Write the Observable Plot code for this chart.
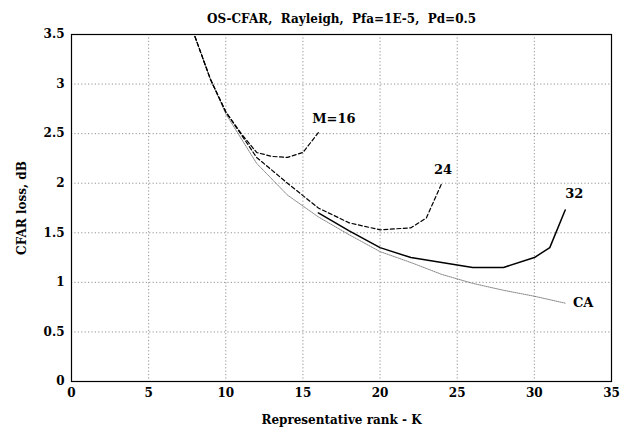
<!DOCTYPE html>
<html>
<head>
<meta charset="utf-8">
<script src="https://cdn.jsdelivr.net/npm/d3@7"></script>
<script src="https://cdn.jsdelivr.net/npm/@observablehq/plot@0.6"></script>
<style>
  html, body { margin: 0; padding: 0; background: #fff; }
</style>
</head>
<body>
<div id="chart"></div>
<script>
// ---- data ----
const titleText = "OS-CFAR,  Rayleigh,  Pfa=1E-5,  Pd=0.5";
const xLabel = "Representative rank - K";
const yLabel = "CFAR loss, dB";
const xTicks = [0, 5, 10, 15, 20, 25, 30, 35];
const yTicks = [0, 0.5, 1, 1.5, 2, 2.5, 3, 3.5];

const k16 = [8, 9, 10, 11, 12, 13, 14, 15, 16];
const loss16 = [3.48, 3.05, 2.72, 2.5, 2.31, 2.27, 2.26, 2.31, 2.51];

const k24 = [8, 9, 10, 12, 14, 16, 18, 20, 22, 23, 24];
const loss24 = [3.48, 3.05, 2.72, 2.26, 2.0, 1.75, 1.6, 1.53, 1.55, 1.65, 2.0];

const k32 = [16, 18, 20, 22, 24, 26, 28, 30, 31, 32];
const loss32 = [1.7, 1.52, 1.35, 1.25, 1.2, 1.15, 1.15, 1.25, 1.35, 1.73];

const kCA = [8, 9, 10, 12, 14, 16, 18, 20, 22, 24, 26, 28, 30, 32];
const lossCA = [3.48, 3.05, 2.7, 2.2, 1.88, 1.66, 1.48, 1.31, 1.2, 1.08, 0.99, 0.92, 0.86, 0.79];

const curveNames = ["M=16", "24", "32", "CA"];
const curveLabelK = [15.6, 23.5, 32, 32.5];
const curveLabelLoss = [2.65, 2.14, 1.89, 0.79];

// ---- build tables ----
const toRows = (ks, ls) => ks.map((k, i) => ({k, loss: ls[i]}));
const s16 = toRows(k16, loss16);
const s24 = toRows(k24, loss24);
const s32 = toRows(k32, loss32);
const sCA = toRows(kCA, lossCA);
const labels = curveNames.map((name, i) => ({name, k: curveLabelK[i], loss: curveLabelLoss[i]}));

const font = "'DejaVu Serif', 'Liberation Serif', serif";

const chart = Plot.plot({
  width: 620,
  height: 438,
  marginLeft: 71,
  marginRight: 9,
  marginTop: 34,
  marginBottom: 57,
  style: {fontFamily: font, fontWeight: "bold", fontSize: "12px", color: "#000", background: "#fff"},
  x: {domain: [0, 35], ticks: xTicks, label: null},
  y: {domain: [0, 3.5], ticks: yTicks, label: null},
  marks: [
    Plot.gridX(xTicks, {stroke: "#777", strokeOpacity: 1, strokeDasharray: "1.2,2.2", strokeWidth: 0.8}),
    Plot.gridY(yTicks, {stroke: "#777", strokeOpacity: 1, strokeDasharray: "1.2,2.2", strokeWidth: 0.8}),
    Plot.axisX(xTicks, {tickSize: 0, tickPadding: 7, fontSize: 12, fontWeight: "bold",
      tickFormat: d => String(d),
      label: xLabel, labelAnchor: "center", labelArrow: "none", labelOffset: 42}),
    Plot.axisY(yTicks, {tickSize: 0, tickPadding: 7, fontSize: 12, fontWeight: "bold",
      tickFormat: d => String(d),
      label: yLabel, labelAnchor: "center", labelArrow: "none", labelOffset: 54}),
    Plot.line(sCA, {x: "k", y: "loss", stroke: "#666", strokeWidth: 0.8, strokeDasharray: "1,1", clip: true}),
    Plot.line(s24, {x: "k", y: "loss", stroke: "#000", strokeWidth: 1.2, strokeDasharray: "4,2.5", clip: true}),
    Plot.line(s16, {x: "k", y: "loss", stroke: "#000", strokeWidth: 1.2, strokeDasharray: "4,2.5", clip: true}),
    Plot.line(s32, {x: "k", y: "loss", stroke: "#000", strokeWidth: 1.5, clip: true}),
    Plot.text(labels, {x: "k", y: "loss", text: "name", textAnchor: "start", fontSize: 13, fontWeight: "bold", fill: "#000"}),
    Plot.text([titleText], {text: d => d, frameAnchor: "top", dy: -20, fontSize: 12, fontWeight: "bold", fill: "#000"}),
    Plot.frame({stroke: "#000", strokeWidth: 1.2})
  ]
});
document.getElementById("chart").appendChild(chart);
</script>
</body>
</html>
